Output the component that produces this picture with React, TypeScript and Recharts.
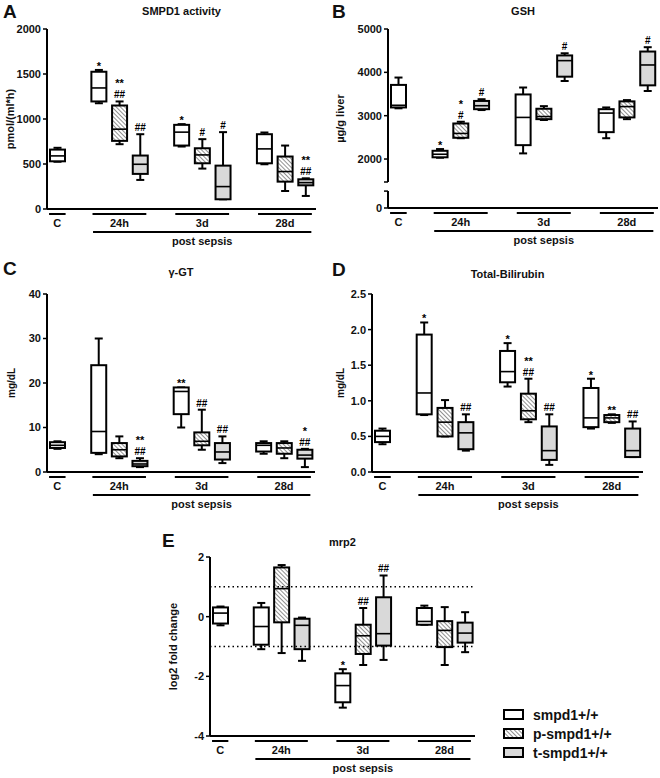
import React from 'react';
import { ComposedChart, Bar, XAxis, YAxis, ReferenceLine } from 'recharts';

const FONT = '"Liberation Sans", Arial, Helvetica, sans-serif';

// ---------- categories / series ----------
const TIMEPOINTS = ['C', '24h', '3d', '28d'];
const GROUP_LABEL = 'post sepsis';
const SERIES = [
  { key: 'wt', name: 'smpd1+/+', fill: '#ffffff' },
  { key: 'p', name: 'p-smpd1+/+', fill: 'url(#hatchFill)' },
  { key: 't', name: 't-smpd1+/+', fill: '#d9d9d9' },
];

// five-number summaries [min, q1, median, q3, max] per timepoint (C, 24h, 3d, 28d)
// ---- A: SMPD1 activity ----
const SMPD1_WT = [[525, 530, 590, 660, 680], [1175, 1195, 1345, 1525, 1545], [694, 705, 854, 935, 943], [497, 508, 668, 831, 850]];
const SMPD1_P = [null, [720, 757, 887, 1150, 1195], [449, 508, 601, 675, 776], [200, 304, 416, 583, 705]];
const SMPD1_T = [null, [323, 390, 497, 594, 831], [108, 108, 249, 482, 854], [145, 263, 293, 330, 341]];
const SMPD1_SIG_WT = ['', '*', '*', ''];
const SMPD1_SIG_P = ['', '**\n##', '#', ''];
const SMPD1_SIG_T = ['', '##', '#', '**\n##'];
const SMPD1_TICKS = [0, 500, 1000, 1500, 2000];

// ---- B: GSH ----
const GSH_WT = [[3170, 3190, 3240, 3710, 3880], [2030, 2040, 2110, 2190, 2230], [2130, 2320, 2960, 3490, 3650], [2480, 2620, 3060, 3150, 3190]];
const GSH_P = [null, [2480, 2490, 2590, 2820, 2860], [2900, 2920, 2980, 3160, 3220], [2920, 2960, 3210, 3330, 3360]];
const GSH_T = [null, [3130, 3150, 3230, 3340, 3380], [3800, 3900, 4270, 4390, 4440], [3570, 3700, 4170, 4480, 4580]];
const GSH_SIG_WT = ['', '*', '', ''];
const GSH_SIG_P = ['', '*\n#', '', ''];
const GSH_SIG_T = ['', '#', '#', '#'];
const GSH_AXIS_ORIGIN = 870; // value at the bottom of the broken axis, labelled "0"
const GSH_BREAK = [1260, 1470];
const GSH_TICKS = [GSH_AXIS_ORIGIN, 1260, 1470, 2000, 3000, 4000, 5000];

// ---- C: gamma-GT ----
const GGT_WT = [[5.2, 5.4, 6.0, 6.7, 6.9], [4.0, 4.3, 9.1, 24.0, 30.0], [10.0, 13.0, 18.1, 19.0, 19.0], [4.1, 4.6, 6.0, 6.5, 6.9]];
const GGT_P = [null, [3.1, 3.5, 5.0, 6.5, 8.0], [5.0, 6.0, 6.9, 8.9, 14.0], [3.1, 4.1, 5.4, 6.5, 6.9]];
const GGT_T = [null, [1.1, 1.3, 1.8, 2.5, 3.1], [2.0, 2.8, 4.5, 6.5, 8.0], [1.1, 3.0, 3.8, 5.0, 5.2]];
const GGT_SIG_WT = ['', '', '**', ''];
const GGT_SIG_P = ['', '', '##', ''];
const GGT_SIG_T = ['', '**\n##', '##', '*\n##'];
const GGT_TICKS = [0, 10, 20, 30, 40];

// ---- D: Total-Bilirubin ----
const BILI_WT = [[0.39, 0.42, 0.5, 0.58, 0.61], [0.8, 0.81, 1.11, 1.93, 2.1], [1.2, 1.26, 1.41, 1.7, 1.81], [0.61, 0.63, 0.76, 1.18, 1.31]];
const BILI_P = [null, [0.5, 0.5, 0.7, 0.9, 1.01], [0.7, 0.74, 0.86, 1.1, 1.31], [0.69, 0.7, 0.76, 0.8, 0.81]];
const BILI_T = [null, [0.3, 0.32, 0.55, 0.7, 0.81], [0.1, 0.17, 0.3, 0.64, 0.81], [0.21, 0.21, 0.3, 0.61, 0.71]];
const BILI_SIG_WT = ['', '*', '*', '*'];
const BILI_SIG_P = ['', '', '**\n##', '**'];
const BILI_SIG_T = ['', '##', '##', '##'];
const BILI_TICKS = [0, 0.5, 1.0, 1.5, 2.0, 2.5];

// ---- E: mrp2 ----
const MRP2_WT = [[-0.29, -0.23, 0.12, 0.31, 0.34], [-1.09, -0.94, -0.33, 0.31, 0.46], [-3.05, -2.87, -2.31, -1.9, -1.76], [-0.27, -0.27, -0.16, 0.29, 0.37]];
const MRP2_P = [null, [-1.22, -0.19, 0.94, 1.65, 1.73], [-1.62, -1.25, -0.64, -0.27, 0.29], [-1.62, -1.02, -0.46, -0.15, 0.32]];
const MRP2_T = [null, [-1.48, -1.09, -0.29, -0.07, -0.03], [-1.45, -0.97, -0.57, 0.65, 1.38], [-1.19, -0.87, -0.55, -0.2, 0.15]];
const MRP2_SIG_WT = ['', '', '*', ''];
const MRP2_SIG_P = ['', '', '##', ''];
const MRP2_SIG_T = ['', '', '##', ''];
const MRP2_TICKS = [-4, -2, 0, 2];
const MRP2_THRESHOLDS = [1, -1];

// ---------- table builder ----------
type Box = number[] | null;
function makeRow(idx: number, series: string | null, box: Box, sig: string) {
  return {
    slot: 's' + idx,
    series,
    range: box ? [box[0], box[4]] : null,
    q1: box ? box[1] : null,
    med: box ? box[2] : null,
    q3: box ? box[3] : null,
    sig: sig || '',
  };
}
function buildSlots(wt: Box[], p: Box[], t: Box[], sw: string[], sp: string[], st: string[]) {
  const rows: any[] = [];
  rows.push(makeRow(rows.length, 'wt', wt[0], sw[0]));
  for (let i = 1; i < TIMEPOINTS.length; i++) {
    rows.push(makeRow(rows.length, null, null, ''));
    rows.push(makeRow(rows.length, 'wt', wt[i], sw[i]));
    rows.push(makeRow(rows.length, 'p', p[i], sp[i]));
    rows.push(makeRow(rows.length, 't', t[i], st[i]));
  }
  return rows;
}

// ---------- shapes ----------
const SIG_FONT = 10;
const SIG_LINE = 11.2;

const BoxShape = (props: any) => {
  const { x, y, width, height, payload } = props;
  if (!payload || !payload.range || y == null) return <g />;
  const [lo, hi] = payload.range;
  const top = Math.min(y, y + height);
  const bot = Math.max(y, y + height);
  const toPx = (v: number) => (hi === lo ? bot : bot - ((v - lo) / (hi - lo)) * (bot - top));
  const cx = x + width / 2;
  const s = SERIES.find((d) => d.key === payload.series);
  const yq3 = toPx(payload.q3);
  const yq1 = toPx(payload.q1);
  const ymed = toPx(payload.med);
  const cap = 4;
  const lines: string[] = payload.sig ? String(payload.sig).split('\n') : [];
  const n = lines.length;
  return (
    <g>
      <line x1={cx} x2={cx} y1={top} y2={bot} stroke="#000" strokeWidth={2} />
      <line x1={cx - cap} x2={cx + cap} y1={top} y2={top} stroke="#000" strokeWidth={2} />
      <line x1={cx - cap} x2={cx + cap} y1={bot} y2={bot} stroke="#000" strokeWidth={2} />
      <rect x={x} y={yq3} width={width} height={Math.max(yq1 - yq3, 0.5)} fill={s ? s.fill : '#fff'} stroke="#000" strokeWidth={2} />
      <line x1={x} x2={x + width} y1={ymed} y2={ymed} stroke="#000" strokeWidth={1.6} />
      {lines.map((ln, i) => {
        const k = n - 1 - i;
        const isStar = ln.indexOf('*') >= 0;
        const base = top - 3 - SIG_LINE * k + (isStar && n === 1 ? 3 : 0);
        return (
          <text key={i} x={cx} y={base} textAnchor="middle" fontFamily={FONT} fontWeight={700} fontSize={isStar ? SIG_FONT + 1 : SIG_FONT} fill="#000">
            {ln}
          </text>
        );
      })}
    </g>
  );
};

const makeTick = (band: number) => (props: any) => {
  const { x, y, index } = props;
  const items: any[] = [];
  const groupIdx: Record<number, string> = { 0: TIMEPOINTS[0], 3: TIMEPOINTS[1], 7: TIMEPOINTS[2], 11: TIMEPOINTS[3] };
  if (groupIdx[index] !== undefined) {
    const w = index === 0 ? band * 0.8 : band * 2.6;
    items.push(<line key="gl" x1={x - w / 2} x2={x + w / 2} y1={y + 5} y2={y + 5} stroke="#000" strokeWidth={2} />);
    items.push(
      <text key="gt" x={x} y={y + 18} textAnchor="middle" fontFamily={FONT} fontWeight={700} fontSize={11} fill="#111">
        {groupIdx[index]}
      </text>
    );
  }
  if (index === 7) {
    const w = band * 10.55;
    items.push(<line key="pl" x1={x - w / 2} x2={x + w / 2} y1={y + 23} y2={y + 23} stroke="#000" strokeWidth={2} />);
    items.push(
      <text key="pt" x={x} y={y + 36} textAnchor="middle" fontFamily={FONT} fontWeight={700} fontSize={11} fill="#111">
        {GROUP_LABEL}
      </text>
    );
  }
  return <g>{items}</g>;
};

// ---------- panels ----------
const PANELS = [
  {
    id: 'A', title: 'SMPD1 activity', yLabel: 'pmol/(ml*h)', labelSize: 11, labelOffset: 10,
    x: 0, y: 0, w: 330, h: 255, plotLeft: 47, plotRight: 316, plotTop: 29, plotBottom: 209,
    domain: [0, 2000], ticks: SMPD1_TICKS, fmt: (v: number) => String(v),
    data: buildSlots(SMPD1_WT, SMPD1_P, SMPD1_T, SMPD1_SIG_WT, SMPD1_SIG_P, SMPD1_SIG_T),
    letterPos: [3, 18], titleY: 15,
  },
  {
    id: 'B', title: 'GSH', yLabel: 'µg/g liver', labelSize: 11, labelOffset: 10,
    x: 330, y: 0, w: 330, h: 255, plotLeft: 388, plotRight: 658, plotTop: 29, plotBottom: 208,
    domain: [GSH_AXIS_ORIGIN, 5000], ticks: GSH_TICKS,
    fmt: (v: number) => (v === GSH_AXIS_ORIGIN ? '0' : GSH_BREAK.indexOf(v) >= 0 ? '' : String(v)),
    data: buildSlots(GSH_WT, GSH_P, GSH_T, GSH_SIG_WT, GSH_SIG_P, GSH_SIG_T),
    letterPos: [332, 18], titleY: 15, broken: true,
  },
  {
    id: 'C', title: 'γ-GT', yLabel: 'mg/dL', labelSize: 10, labelOffset: 11,
    x: 0, y: 255, w: 330, h: 263, plotLeft: 47, plotRight: 315, plotTop: 294, plotBottom: 472,
    domain: [0, 40], ticks: GGT_TICKS, fmt: (v: number) => String(v),
    data: buildSlots(GGT_WT, GGT_P, GGT_T, GGT_SIG_WT, GGT_SIG_P, GGT_SIG_T),
    letterPos: [3, 275], titleY: 276,
  },
  {
    id: 'D', title: 'Total-Bilirubin', yLabel: 'mg/dL', labelSize: 10, labelOffset: 10,
    x: 330, y: 255, w: 330, h: 263, plotLeft: 372, plotRight: 643, plotTop: 294, plotBottom: 472,
    domain: [0, 2.5], ticks: BILI_TICKS, fmt: (v: number) => v.toFixed(1),
    data: buildSlots(BILI_WT, BILI_P, BILI_T, BILI_SIG_WT, BILI_SIG_P, BILI_SIG_T),
    letterPos: [332, 276], titleY: 278,
  },
  {
    id: 'E', title: 'mrp2', yLabel: 'log2 fold change', labelSize: 11, labelOffset: 13,
    x: 160, y: 500, w: 330, h: 278, plotLeft: 210, plotRight: 475, plotTop: 557, plotBottom: 736,
    domain: [-4, 2], ticks: MRP2_TICKS, fmt: (v: number) => String(v),
    data: buildSlots(MRP2_WT, MRP2_P, MRP2_T, MRP2_SIG_WT, MRP2_SIG_P, MRP2_SIG_T),
    letterPos: [162, 547], titleY: 546, refs: MRP2_THRESHOLDS,
  },
];

const Panel = ({ cfg }: { cfg: any }) => {
  const band = (cfg.plotRight - cfg.plotLeft) / 13;
  const margin = { top: cfg.plotTop - cfg.y, right: cfg.x + cfg.w - cfg.plotRight, bottom: 0, left: 0 };
  const yAxisWidth = cfg.plotLeft - cfg.x;
  const xAxisHeight = cfg.y + cfg.h - cfg.plotBottom;
  let axisLine: any = { stroke: '#000', strokeWidth: 2 };
  if (cfg.broken) {
    const plotH = cfg.plotBottom - cfg.plotTop;
    const k = plotH / (cfg.domain[1] - cfg.domain[0]);
    const upper = (cfg.domain[1] - GSH_BREAK[1]) * k;
    const gap = (GSH_BREAK[1] - GSH_BREAK[0]) * k;
    const lower = (GSH_BREAK[0] - cfg.domain[0]) * k + 4;
    axisLine = { stroke: '#000', strokeWidth: 2, strokeDasharray: `${upper} ${gap} ${lower}` };
  }
  return (
    <div style={{ position: 'absolute', left: cfg.x, top: cfg.y }}>
      <ComposedChart width={cfg.w} height={cfg.h} data={cfg.data} margin={margin} barCategoryGap={0}>
        <XAxis
          dataKey="slot"
          type="category"
          interval={0}
          height={xAxisHeight}
          tickLine={false}
          tickSize={0}
          tickMargin={0}
          axisLine={{ stroke: '#000', strokeWidth: 2 }}
          tick={makeTick(band)}
        />
        <YAxis
          type="number"
          domain={cfg.domain}
          ticks={cfg.ticks}
          interval={0}
          allowDataOverflow
          width={yAxisWidth}
          axisLine={axisLine}
          tickLine={{ stroke: '#000', strokeWidth: 1.5 }}
          tickSize={4}
          tickMargin={2}
          tickFormatter={cfg.fmt}
          tick={{ fontSize: 11, fontWeight: 700, fill: '#111', fontFamily: FONT }}
          label={{
            value: cfg.yLabel,
            angle: -90,
            position: 'insideLeft',
            offset: cfg.labelOffset,
            style: { textAnchor: 'middle', fontSize: cfg.labelSize, fontWeight: 700, fill: '#111', fontFamily: FONT },
          }}
        />
        {(cfg.refs || []).map((r: number) => (
          <ReferenceLine key={r} y={r} stroke="#000" strokeWidth={1.5} strokeDasharray="1.5 3" />
        ))}
        <Bar dataKey="range" barSize={15} shape={BoxShape} isAnimationActive={false} />
      </ComposedChart>
    </div>
  );
};

const LEGEND_POS = { x: 504, y: 710, rowGap: 19 };

export default function App() {
  return (
    <div style={{ position: 'absolute', left: 0, top: 0, width: 660, height: 778, background: '#fff', overflow: 'hidden' }}>
      {PANELS.map((p) => (
        <Panel key={p.id} cfg={p} />
      ))}
      <svg width={660} height={778} style={{ position: 'absolute', left: 0, top: 0, pointerEvents: 'none' }}>
        <defs>
          <pattern id="hatchFill" patternUnits="userSpaceOnUse" width={3} height={3} patternTransform="rotate(-45)">
            <rect width={3} height={3} fill="#fff" />
            <line x1={0} y1={0} x2={0} y2={3} stroke="#555" strokeWidth={1.3} />
          </pattern>
        </defs>
        {PANELS.map((p) => (
          <g key={p.id}>
            <text x={p.letterPos[0]} y={p.letterPos[1]} fontFamily={FONT} fontWeight={700} fontSize={19} fill="#111">
              {p.id}
            </text>
            <text x={(p.plotLeft + p.plotRight) / 2} y={p.titleY} textAnchor="middle" fontFamily={FONT} fontWeight={700} fontSize={11} fill="#111">
              {p.title}
            </text>
          </g>
        ))}
        {SERIES.map((s, i) => (
          <g key={s.key}>
            <rect x={LEGEND_POS.x} y={LEGEND_POS.y + i * LEGEND_POS.rowGap} width={19} height={9} fill={s.fill} stroke="#000" strokeWidth={2} />
            <text x={LEGEND_POS.x + 29} y={LEGEND_POS.y + i * LEGEND_POS.rowGap + 10} fontFamily={FONT} fontWeight={700} fontSize={14} fill="#111">
              {s.name}
            </text>
          </g>
        ))}
      </svg>
    </div>
  );
}
